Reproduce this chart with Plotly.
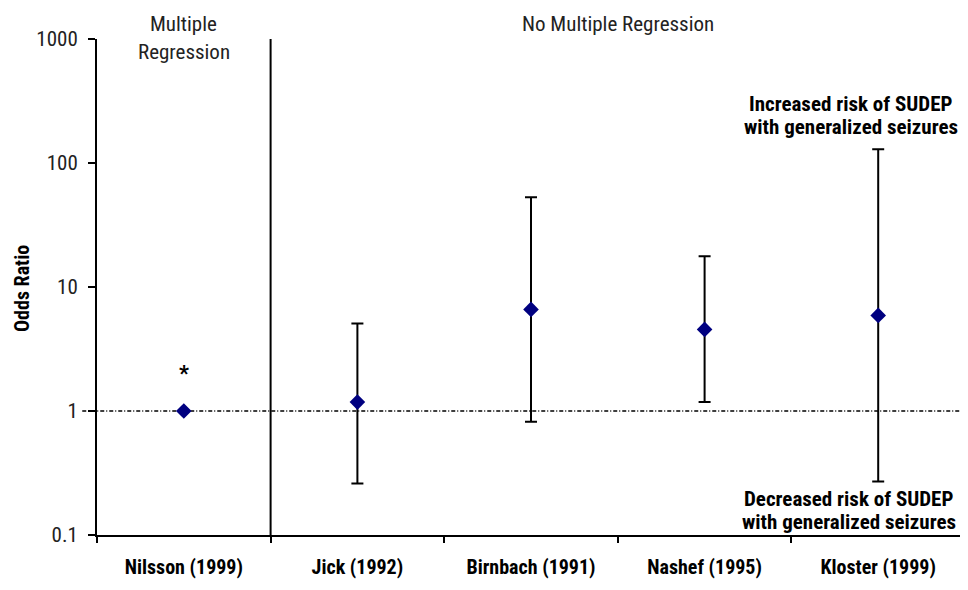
import math
import plotly.graph_objects as go

# ---- data ----
studies = ["Nilsson (1999)", "Jick (1992)", "Birnbach (1991)", "Nashef (1995)", "Kloster (1999)"]
odds_ratio = [1.0, 1.18, 6.6, 4.55, 5.9]
ci_upper = [None, 5.08, 53.0, 17.7, 129.0]
ci_lower = [None, 0.26, 0.82, 1.18, 0.27]
y_tick_vals = [0.1, 1, 10, 100, 1000]
y_tick_text = ["0.1", "1", "10", "100", "1000"]
asterisk_value = 2.0
reference_line_value = 1.0

FONT = "'Liberation Sans Narrow', 'Arial Narrow', 'Roboto Condensed', 'Liberation Sans', sans-serif"

x_pos = list(range(len(studies)))
err_plus = [(u - c) if u is not None else 0 for u, c in zip(ci_upper, odds_ratio)]
err_minus = [(c - l) if l is not None else 0 for l, c in zip(ci_lower, odds_ratio)]

fig = go.Figure()
fig.add_trace(go.Scatter(
    x=x_pos, y=odds_ratio, mode="markers",
    marker=dict(symbol="diamond", size=12, color="#000080"),
    error_y=dict(type="data", symmetric=False, array=err_plus, arrayminus=err_minus,
                 color="black", thickness=2, width=6, visible=True),
    showlegend=False, hoverinfo="skip",
))

# reference line at OR = 1 (dash-dot)
fig.add_shape(type="line", xref="paper", yref="y", x0=-0.017, x1=1,
              y0=reference_line_value, y1=reference_line_value,
              line=dict(color="black", width=1.6, dash="4px,2px,1px,2px"), layer="below")
# separator between groups
fig.add_shape(type="line", xref="x", yref="paper", x0=0.5, x1=0.5, y0=0, y1=1,
              line=dict(color="black", width=2))

ann = []
def txt(text, x, y, xref="paper", yref="paper", bold=False, size=21, color="#222", **kw):
    ann.append(dict(text=("<b>%s</b>" % text) if bold else text, x=x, y=y, xref=xref, yref=yref,
                    showarrow=False, xanchor=kw.pop("xanchor", "center"), yanchor=kw.pop("yanchor", "middle"),
                    font=dict(family=FONT, size=size, color=color), **kw))

txt("Multiple", 0, 1.0298, xref="x")
txt("Regression", 0, 0.9742, xref="x")
txt("No Multiple Regression", 2.5, 1.0298, xref="x")
txt("Increased risk of SUDEP", 0.869, 0.869, bold=True, color="black")
txt("with generalized seizures", 0.869, 0.823, bold=True, color="black")
txt("Decreased risk of SUDEP", 0.866, 0.0734, bold=True, color="black")
txt("with generalized seizures", 0.866, 0.0258, bold=True, color="black")
txt("Odds Ratio", -0.0864, 0.496, bold=True, color="black", size=20, textangle=-90)
txt("*", 0, math.log10(asterisk_value), xref="x", yref="y", bold=True, color="black", size=22)

# the page body adds an 8px margin, so the figure is sized to fit the window without scrolling
fig.update_layout(
    width=960, height=574,
    margin=dict(l=89, r=3, t=31, b=39),
    paper_bgcolor="white", plot_bgcolor="white",
    annotations=ann,
    xaxis=dict(
        range=[-0.5, 4.5], tickvals=x_pos,
        ticktext=["<b>%s</b>" % s for s in studies],
        ticks="", showgrid=False, zeroline=False,
        showline=True, linecolor="black", linewidth=2,
        tickfont=dict(family=FONT, size=20, color="black"),
        ticklabelstandoff=13,
        minor=dict(tickvals=[-0.5, 0.5, 1.5, 2.5, 3.5, 4.5], ticks="outside",
                   ticklen=6, tickwidth=2, tickcolor="black", showgrid=False),
    ),
    yaxis=dict(
        type="log", range=[-1, 3], tickvals=y_tick_vals, ticktext=y_tick_text,
        ticks="outside", ticklen=7, tickwidth=2, tickcolor="black",
        showgrid=False, zeroline=False,
        showline=True, linecolor="black", linewidth=2,
        tickfont=dict(family=FONT, size=21, color="#222"),
        ticklabelstandoff=6,
    ),
)

fig.write_html("out.html")
